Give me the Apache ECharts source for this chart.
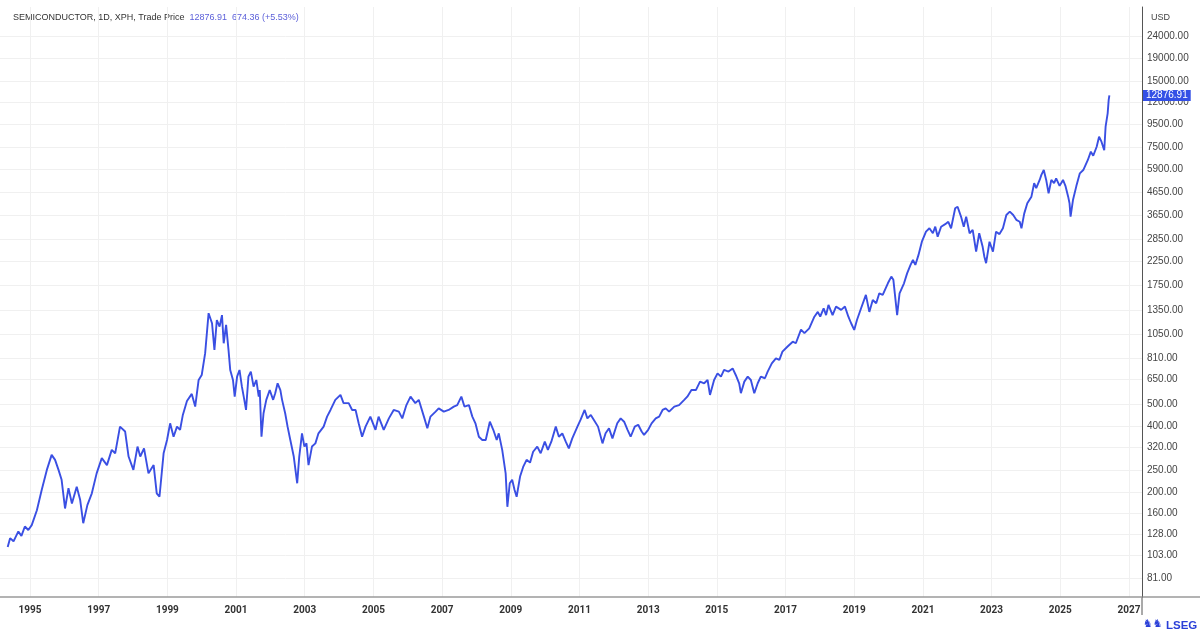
<!DOCTYPE html>
<html>
<head>
<meta charset="utf-8">
<script src="https://cdn.jsdelivr.net/npm/echarts@6/dist/echarts.min.js"></script>
<style>html,body{margin:0;padding:0;background:#fff}#main{width:1200px;height:637px}</style>
</head>
<body>
<div id="main"></div>
<script>
// Decimal-year dates and prices (log-scale chart)
const yearFrac = [1994.35,1994.42,1994.52,1994.66,1994.75,1994.85,1994.95,1995.05,1995.2,1995.34,1995.49,1995.63,1995.73,1995.83,1995.92,1996.02,1996.12,1996.22,1996.36,1996.46,1996.55,1996.67,1996.8,1996.94,1997.09,1997.24,1997.38,1997.48,1997.62,1997.77,1997.87,1998.01,1998.13,1998.21,1998.32,1998.45,1998.6,1998.69,1998.77,1998.89,1998.99,1999.08,1999.18,1999.28,1999.37,1999.45,1999.57,1999.71,1999.81,1999.91,2000.0,2000.1,2000.2,2000.3,2000.37,2000.44,2000.52,2000.59,2000.64,2000.71,2000.78,2000.83,2000.91,2000.96,2001.03,2001.1,2001.17,2001.24,2001.29,2001.36,2001.43,2001.51,2001.59,2001.66,2001.69,2001.74,2001.8,2001.88,2001.98,2002.08,2002.14,2002.21,2002.29,2002.34,2002.43,2002.5,2002.58,2002.68,2002.78,2002.84,2002.92,2002.99,2003.05,2003.11,2003.21,2003.31,2003.4,2003.55,2003.65,2003.75,2003.89,2004.04,2004.13,2004.28,2004.38,2004.48,2004.57,2004.67,2004.77,2004.91,2005.06,2005.15,2005.3,2005.45,2005.59,2005.74,2005.84,2005.96,2006.08,2006.22,2006.32,2006.47,2006.57,2006.66,2006.81,2006.9,2007.05,2007.19,2007.34,2007.44,2007.56,2007.65,2007.78,2007.88,2007.97,2008.07,2008.17,2008.27,2008.39,2008.49,2008.59,2008.65,2008.75,2008.85,2008.9,2008.97,2009.04,2009.11,2009.17,2009.27,2009.36,2009.46,2009.56,2009.65,2009.77,2009.87,2009.99,2010.08,2010.18,2010.31,2010.4,2010.5,2010.6,2010.69,2010.79,2010.94,2011.03,2011.15,2011.23,2011.33,2011.42,2011.54,2011.67,2011.76,2011.86,2011.96,2012.1,2012.2,2012.3,2012.4,2012.49,2012.61,2012.71,2012.81,2012.88,2013.0,2013.1,2013.22,2013.32,2013.42,2013.51,2013.61,2013.76,2013.9,2014.05,2014.14,2014.26,2014.39,2014.51,2014.63,2014.73,2014.8,2014.92,2015.02,2015.12,2015.21,2015.34,2015.46,2015.55,2015.65,2015.7,2015.8,2015.9,2015.99,2016.09,2016.19,2016.28,2016.4,2016.48,2016.6,2016.72,2016.82,2016.91,2017.06,2017.21,2017.3,2017.45,2017.55,2017.69,2017.84,2017.94,2018.01,2018.11,2018.18,2018.25,2018.37,2018.47,2018.62,2018.73,2018.83,2018.91,2019.0,2019.08,2019.2,2019.34,2019.44,2019.54,2019.64,2019.73,2019.83,2019.98,2020.08,2020.14,2020.25,2020.32,2020.45,2020.54,2020.64,2020.71,2020.78,2020.87,2020.97,2021.09,2021.19,2021.29,2021.36,2021.43,2021.53,2021.65,2021.74,2021.82,2021.94,2022.01,2022.11,2022.19,2022.26,2022.36,2022.45,2022.55,2022.64,2022.74,2022.79,2022.84,2022.94,2023.04,2023.13,2023.23,2023.33,2023.43,2023.53,2023.63,2023.72,2023.82,2023.87,2023.95,2024.04,2024.16,2024.24,2024.3,2024.4,2024.45,2024.52,2024.59,2024.66,2024.74,2024.82,2024.88,2024.98,2025.08,2025.15,2025.23,2025.27,2025.3,2025.37,2025.47,2025.57,2025.67,2025.8,2025.89,2025.96,2026.06,2026.13,2026.2,2026.28,2026.32,2026.38,2026.41,2026.43];
const prices = [112,123,119,132,126,139,134,141,165,204,252,295,280,252,227,168,208,177,211,184,144,174,197,243,285,265,311,300,397,377,290,252,322,290,316,243,265,197,190,300,345,411,357,397,384,449,520,560,490,648,683,859,1307,1176,889,1217,1135,1281,953,1156,889,720,648,544,671,720,604,526,473,671,708,604,648,544,583,357,457,526,583,526,564,626,583,526,457,397,345,290,219,290,370,322,333,265,322,333,370,397,441,473,526,554,508,508,473,473,411,357,397,441,384,441,384,433,473,465,433,498,544,508,526,441,390,441,465,481,465,473,490,498,544,490,498,441,411,357,345,345,418,384,345,370,311,243,171,219,227,204,190,235,260,280,272,305,322,300,339,311,339,397,357,370,339,316,351,397,426,473,433,449,426,397,333,370,390,351,411,433,418,384,357,397,405,377,364,384,411,433,441,473,481,465,490,498,526,544,583,583,637,626,648,554,648,695,671,720,708,732,683,626,564,637,671,648,564,626,671,660,708,772,814,800,873,921,969,953,1100,1060,1115,1260,1325,1260,1376,1281,1425,1281,1401,1353,1401,1260,1176,1096,1217,1376,1584,1325,1502,1452,1611,1584,1790,1920,1855,1281,1611,1790,1986,2170,2285,2170,2405,2770,3077,3190,3027,3243,2920,3243,3330,3415,3190,3935,4000,3605,3243,3605,3027,3135,2494,3027,2625,2365,2210,2770,2494,3077,3000,3190,3668,3800,3668,3485,3415,3190,3720,4145,4445,5120,4860,5300,5590,5880,5300,4605,5300,5120,5390,4980,5300,4980,4445,4145,3605,4290,4980,5680,5880,6520,7130,6830,7510,8340,7920,7240,9270,10670,12280,12876.91];
const yTicks = [81,103,128,160,200,250,320,400,500,650,810,1050,1350,1750,2250,2850,3650,4650,5900,7500,9500,12000,15000,19000,24000];
const xTickYears = [1995,1997,1999,2001,2003,2005,2007,2009,2011,2013,2015,2017,2019,2021,2023,2025,2027];
const lastPrice = 12876.91;
const changeText = '674.36 (+5.53%)';
const titleText = 'SEMICONDUCTOR, 1D, XPH, Trade Price';

const seriesData = yearFrac.map((y, i) => [y, prices[i]]);

const blue = '#3a4fe3';
const chart = echarts.init(document.getElementById('main'), null, {renderer: 'canvas'});
chart.setOption({
  animation: false,
  backgroundColor: '#ffffff',
  grid: {left: 0, right: 58, top: 7, bottom: 40, containLabel: false},
  xAxis: {
    type: 'value',
    min: 1994.126,
    max: 2027.38,
    axisLine: {show: true, lineStyle: {color: '#9a9a9a', width: 1.5}},
    axisTick: {show: false, customValues: xTickYears},
    axisLabel: {
      customValues: xTickYears,
      formatter: v => String(Math.round(v)),
      fontSize: 10, fontWeight: 'bold', color: '#333', margin: 8,
      fontFamily: 'Roboto'
    },
    splitLine: {show: true, lineStyle: {color: '#f0f0f0', width: 1}}
  },
  yAxis: {
    type: 'log',
    position: 'right',
    min: 66.3,
    max: 32600,
    axisLine: {show: true, lineStyle: {color: '#555', width: 1}},
    axisTick: {show: false, customValues: yTicks},
    axisLabel: {
      customValues: yTicks,
      formatter: v => Number(v).toFixed(2),
      fontSize: 10, color: '#444', margin: 5,
      fontFamily: 'Liberation Sans'
    },
    splitLine: {show: true, lineStyle: {color: '#f0f0f0', width: 1}}
  },
  series: [{
    type: 'line',
    data: seriesData,
    showSymbol: false,
    symbol: 'none',
    lineStyle: {color: blue, width: 1.9},
    markLine: {
      silent: true,
      symbol: 'none',
      lineStyle: {color: 'rgba(0,0,0,0)', width: 0},
      data: [{yAxis: lastPrice}],
      label: {
        position: 'end', distance: 1,
        formatter: () => lastPrice.toFixed(2),
        color: '#fff', backgroundColor: '#3450e6',
        padding: [1, 3, 0, 3], fontSize: 10, fontFamily: 'Liberation Sans'
      }
    }
  }],
  graphic: [
    {type: 'text', left: 13, top: 13, style: {
      text: '{a|' + titleText + '}{b|' + lastPrice.toFixed(2) + '}{b|' + changeText + '}',
      rich: {
        a: {fill: '#333', fontSize: 9, fontFamily: 'Liberation Sans', padding: [0, 5, 0, 0]},
        b: {fill: '#5b5fd9', fontSize: 9, fontFamily: 'Liberation Sans', padding: [0, 5, 0, 0]}
      }
    }},
    {type: 'text', left: 1151, top: 13, style: {text: 'USD', fill: '#444', fontSize: 9, fontFamily: 'Liberation Sans'}},
    {type: 'line', shape: {x1: 1142, y1: 597, x2: 1200, y2: 597}, style: {stroke: '#9a9a9a', lineWidth: 1.5}},
    {type: 'line', shape: {x1: 1142, y1: 597, x2: 1142, y2: 615}, style: {stroke: '#555', lineWidth: 1}},
    {type: 'text', left: 1166, top: 620, style: {text: 'LSEG', fill: '#2a3fd8', fontSize: 11.5, fontWeight: 'bold', fontFamily: 'Liberation Sans'}},
    {type: 'text', left: 1143, top: 619, style: {text: '♞♞', fill: '#2a3fd8', fontSize: 11, fontFamily: 'DejaVu Sans'}}
  ]
});
</script>
</body>
</html>
